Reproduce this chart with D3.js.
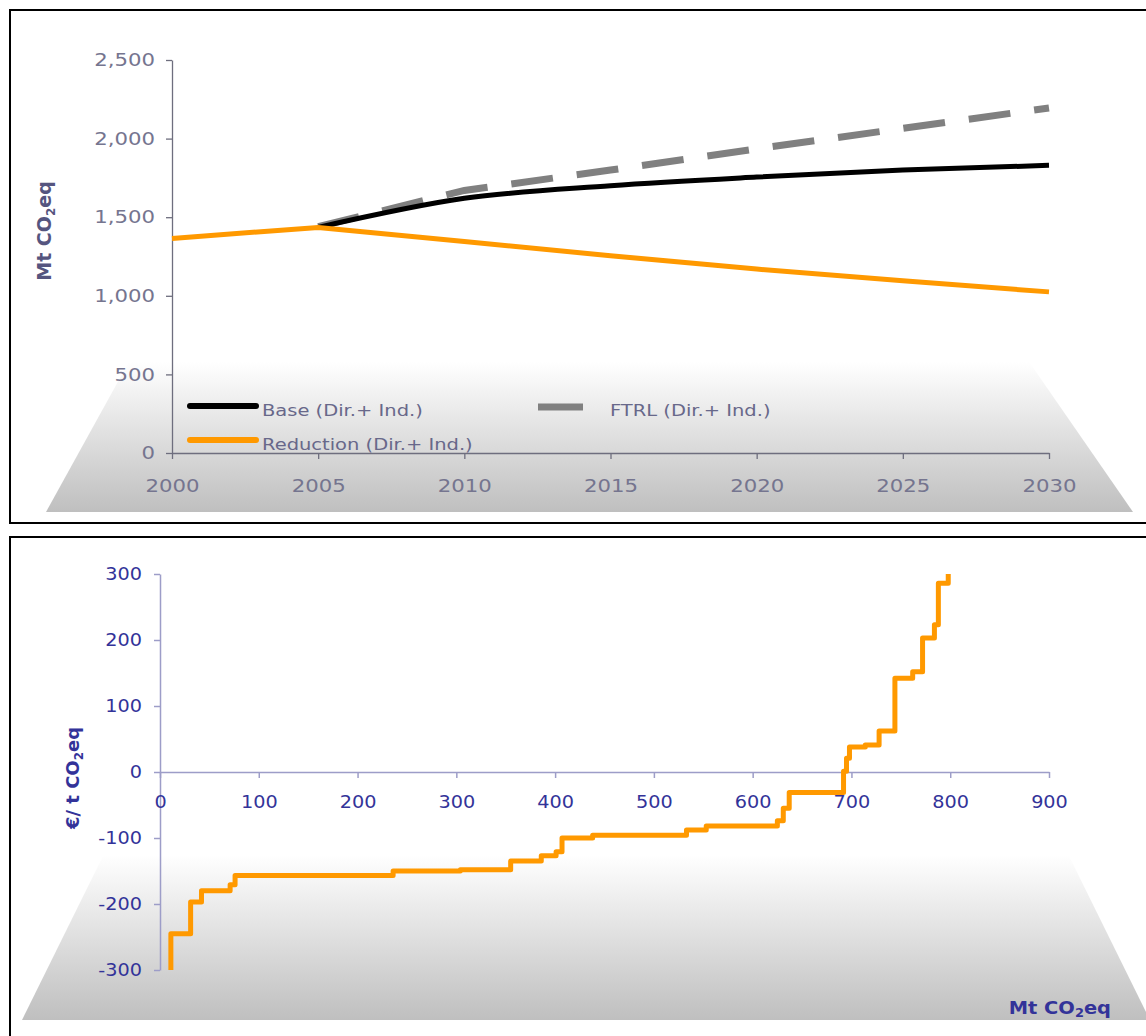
<!DOCTYPE html>
<html>
<head>
<meta charset="utf-8">
<script src="https://cdn.jsdelivr.net/npm/d3@7"></script>
<style>
  html, body { margin: 0; padding: 0; background: #fff; }
  svg { display: block; font-family: "DejaVu Sans", Verdana, sans-serif; }
</style>
</head>
<body>
<svg id="chart" width="1146" height="1036"></svg>
<script>
// ---------- Top chart data ----------
const years = [2000, 2005, 2010, 2015, 2020, 2025, 2030];
const reduction = [1365, 1435, 1345, 1255, 1170, 1095, 1025];
const baseYears = [2005, 2010, 2015, 2020, 2025, 2030];
const base = [1435, 1620, 1700, 1755, 1800, 1830];
const ftrl = [1440, 1670, 1800, 1935, 2065, 2195];
const topYTicks = [0, 500, 1000, 1500, 2000, 2500];
const topXTicks = [2000, 2005, 2010, 2015, 2020, 2025, 2030];
const legendLabels = ["Base (Dir.+ Ind.)", "FTRL (Dir.+ Ind.)", "Reduction (Dir.+ Ind.)"];

// ---------- Bottom chart data (MAC curve steps) ----------
const stepStartMt = [11, 11, 31, 42, 71, 76, 236, 304, 355, 386, 401, 407, 438, 533, 553, 625, 631, 637, 692, 695, 698, 714, 728, 744, 762, 772, 784, 788, 798];
const stepCost    = [-300, -245, -197, -180, -171, -157, -150, -148, -135, -127, -121, -100, -96, -88, -82, -74, -55, -31, 1, 21, 38, 41, 62, 142, 152, 203, 223, 286, 300];
const botYTicks = [-300, -200, -100, 0, 100, 200, 300];
const botXTicks = [0, 100, 200, 300, 400, 500, 600, 700, 800, 900];

const svg = d3.select("#chart");
const defs = svg.append("defs");

function stretch(sel, k) {
  sel.each(function () {
    const t = d3.select(this);
    const x = +t.attr("x") || 0;
    t.attr("x", x / k).attr("transform", `scale(${k},1)`);
  });
}

function addGrad(id, y1, y2, c2) {
  const g = defs.append("linearGradient").attr("id", id)
    .attr("gradientUnits", "userSpaceOnUse")
    .attr("x1", 0).attr("x2", 0).attr("y1", y1).attr("y2", y2);
  g.append("stop").attr("offset", "0%").attr("stop-color", "#ffffff");
  g.append("stop").attr("offset", "100%").attr("stop-color", c2);
}
addGrad("gTop", 362, 512, "#bfbfbf");
addGrad("gBot", 855, 1020, "#bfbfbf");

// ================= TOP CHART =================
const topG = svg.append("g");
topG.append("rect").attr("x", 10).attr("y", 10).attr("width", 1150).attr("height", 513)
  .attr("fill", "#fff").attr("stroke", "#000").attr("stroke-width", 2);

topG.append("polygon")
  .attr("points", [[141, 340], [1014, 340], [1133, 512], [46, 512]].map(p => p.join(",")).join(" "))
  .attr("fill", "url(#gTop)");

const xT = d3.scaleLinear().domain([2000, 2030]).range([172, 1049]);
const yT = d3.scaleLinear().domain([0, 2500]).range([453, 60]);

const topAxisColor = "#6e6e7e";
const topTextColor = "#75758f";

const yAxT = topG.append("g").attr("transform", "translate(172,0)")
  .call(d3.axisLeft(yT).tickValues(topYTicks).tickFormat(d3.format(",")).tickSize(6).tickPadding(11).tickSizeOuter(0));
const xAxT = topG.append("g").attr("transform", "translate(0,453)")
  .call(d3.axisBottom(xT).tickValues(topXTicks).tickFormat(d3.format("d")).tickSize(6).tickPadding(20).tickSizeOuter(0));
[yAxT, xAxT].forEach(a => {
  a.select(".domain").attr("stroke", topAxisColor).attr("stroke-width", 1.3);
  a.selectAll(".tick line").attr("stroke", topAxisColor).attr("stroke-width", 1.3);
  a.selectAll(".tick text").attr("fill", topTextColor).attr("font-size", 18)
    .attr("font-family", "DejaVu Sans, Verdana, sans-serif");
  stretch(a.selectAll(".tick text"), 1.18);
});

// y label
const yl = topG.append("text").attr("transform", "translate(51,231) rotate(-90)")
  .attr("text-anchor", "middle").attr("font-weight", "bold").attr("font-size", 19)
  .attr("fill", "#55557f");
yl.append("tspan").text("Mt CO");
yl.append("tspan").text("2").attr("font-size", 12).attr("dy", 4);
yl.append("tspan").text("eq").attr("dy", -4);

const lineT = d3.line().x(d => xT(d[0])).y(d => yT(d[1]));
topG.append("path").datum(baseYears.map((yr, i) => [yr, ftrl[i]]))
  .attr("d", lineT).attr("fill", "none").attr("stroke", "#808080")
  .attr("stroke-width", 7).attr("stroke-dasharray", "42,24");
topG.append("path").datum(baseYears.map((yr, i) => [yr, base[i]]))
  .attr("d", d3.line().x(d => xT(d[0])).y(d => yT(d[1])).curve(d3.curveMonotoneX))
  .attr("fill", "none").attr("stroke", "#000")
  .attr("stroke-width", 5).attr("stroke-linejoin", "round");
topG.append("path").datum(years.map((yr, i) => [yr, reduction[i]]))
  .attr("d", lineT).attr("fill", "none").attr("stroke", "#ff9900")
  .attr("stroke-width", 5).attr("stroke-linejoin", "round");

// legend
const leg = topG.append("g");
leg.append("line").attr("x1", 190).attr("x2", 256).attr("y1", 406).attr("y2", 406)
  .attr("stroke", "#000").attr("stroke-width", 6).attr("stroke-linecap", "round");
leg.append("line").attr("x1", 538).attr("x2", 583).attr("y1", 407).attr("y2", 407)
  .attr("stroke", "#808080").attr("stroke-width", 7);
leg.append("line").attr("x1", 190).attr("x2", 256).attr("y1", 440).attr("y2", 440)
  .attr("stroke", "#ff9900").attr("stroke-width", 6).attr("stroke-linecap", "round");
const legPos = [[262, 416], [610, 416], [262, 450]];
legendLabels.forEach((t, i) => {
  const g = leg.append("g").attr("transform", `translate(${legPos[i][0]},${legPos[i][1]})`);
  const tx = g.append("text").attr("x", 0).attr("y", 0).attr("font-size", 15)
    .attr("fill", "#68688a").text(t);
  stretch(tx, 1.3);
});

// ================= BOTTOM CHART =================
const botG = svg.append("g");
botG.append("rect").attr("x", 10).attr("y", 537).attr("width", 1150).attr("height", 520)
  .attr("fill", "#fff").attr("stroke", "#000").attr("stroke-width", 2);
botG.append("polygon")
  .attr("points", [[106, 850], [1066, 850], [1150, 1020], [22, 1020]].map(p => p.join(",")).join(" "))
  .attr("fill", "url(#gBot)");

const xB = d3.scaleLinear().domain([0, 900]).range([160, 1049]);
const yB = d3.scaleLinear().domain([-300, 300]).range([970, 574]);
const botAxisColor = "#9d9dc8";
const botTextColor = "#333399";

const yAxB = botG.append("g").attr("transform", "translate(160,0)")
  .call(d3.axisLeft(yB).tickValues(botYTicks).tickFormat(d3.format("d")).tickSize(6).tickPadding(12).tickSizeOuter(0));
const xAxB = botG.append("g").attr("transform", `translate(0,${yB(0)})`)
  .call(d3.axisBottom(xB).tickValues(botXTicks).tickFormat(d3.format("d")).tickSize(6).tickPadding(17).tickSizeOuter(0));
[yAxB, xAxB].forEach(a => {
  a.select(".domain").attr("stroke", botAxisColor).attr("stroke-width", 1.5);
  a.selectAll(".tick line").attr("stroke", botAxisColor).attr("stroke-width", 1.5);
  a.selectAll(".tick text").attr("fill", botTextColor).attr("font-size", 18)
    .attr("font-family", "DejaVu Sans, Verdana, sans-serif");
  stretch(a.selectAll(".tick text"), 1.07);
});
yAxB.selectAll(".tick text").text(d => d < 0 ? "-" + Math.abs(d) : d);

const byl = botG.append("text").attr("transform", "translate(79,778) rotate(-90)")
  .attr("text-anchor", "middle").attr("font-weight", "bold").attr("font-size", 18)
  .attr("fill", botTextColor);
byl.append("tspan").text("€/ t CO");
byl.append("tspan").text("2").attr("font-size", 12).attr("dy", 4);
byl.append("tspan").text("eq").attr("dy", -4);

const bxl = botG.append("g").attr("transform", "translate(1111,1014)");
const bxt = bxl.append("text").attr("text-anchor", "end").attr("font-weight", "bold").attr("font-size", 18)
  .attr("fill", botTextColor);
bxt.append("tspan").text("Mt CO");
bxt.append("tspan").text("2").attr("font-size", 12).attr("dy", 3);
bxt.append("tspan").text("eq").attr("dy", -3);
bxt.attr("transform", "scale(1.08,1)");

const stepLine = d3.line().x(d => xB(d[0])).y(d => yB(d[1])).curve(d3.curveStepAfter);
botG.append("path").datum(stepStartMt.map((m, i) => [m, stepCost[i]]))
  .attr("d", stepLine).attr("fill", "none").attr("stroke", "#ff9900")
  .attr("stroke-width", 5).attr("stroke-linejoin", "round");
</script>
</body>
</html>
